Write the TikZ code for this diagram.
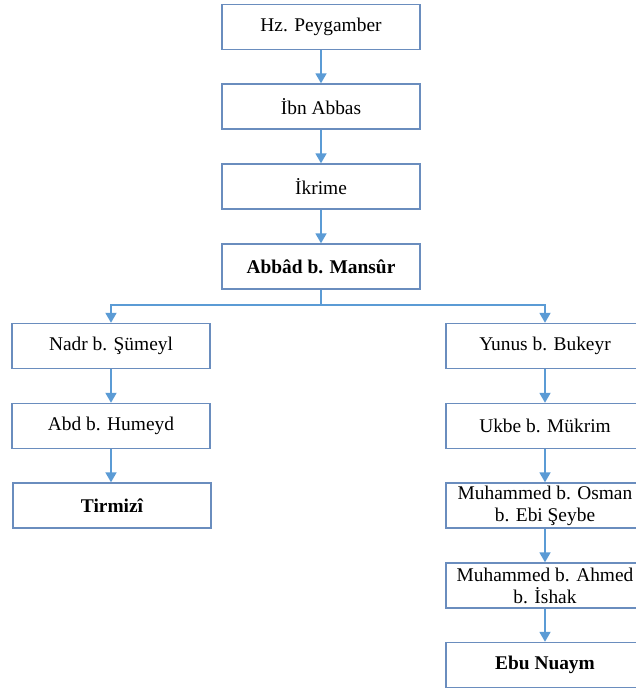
\documentclass[tikz,border=0pt]{standalone}
\usepackage{fontspec}
\setmainfont{Liberation Serif}
\usetikzlibrary{arrows.meta}
\definecolor{boxc}{HTML}{6A8DBE}
\definecolor{arrc}{HTML}{5B9BD5}
\begin{document}
\begin{tikzpicture}[x=1pt,y=-1pt,
  box/.style={draw=boxc,line width=1.4pt,minimum width=198pt,minimum height=45pt,
    align=center,inner sep=0pt,font=\fontsize{19.4pt}{22pt}\selectfont},
  bbox/.style={box,font=\fontsize{19.4pt}{22pt}\selectfont\bfseries},
  arr/.style={draw=arrc,line width=1.8pt,-{Triangle[width=11pt,length=10pt]}}]
\useasboundingbox (0,0) rectangle (636,689);
\clip (0,0) rectangle (636,689);
\node[box] (hz) at (321,27) {Hz. Peygamber};
\node[box] (ibn) at (321,106.5) {İbn Abbas};
\node[box] (ikr) at (321,186.5) {İkrime};
\node[bbox] (abb) at (321,266.5) {Abbâd b. Mansûr};
\node[box] (nadr) at (111,346) {Nadr b. Şümeyl};
\node[box] (abd) at (111,426) {Abd b. Humeyd};
\node[bbox] (tir) at (112,505.5) {Tirmizî};
\node[box] (yun) at (545,346) {Yunus b. Bukeyr};
\node[box] (ukb) at (545,426) {Ukbe b. Mükrim};
\node[box] (mos) at (545,505.5) {Muhammed b. Osman\\b. Ebi Şeybe};
\node[box] (mah) at (545,585.5) {Muhammed b. Ahmed\\b. İshak};
\node[bbox] (ebu) at (545,665) {Ebu Nuaym};
\coordinate (br) at (321,305);
\draw[arr] (hz) -- (ibn);
\draw[arr] (ibn) -- (ikr);
\draw[arr] (ikr) -- (abb);
\draw[arr] (abb.south) -- (br) -| (nadr.north);
\draw[arr] (abb.south) -- (br) -| (yun.north);
\draw[arr] (nadr) -- (abd);
\draw[arr] (abd.south) -- (tir.north -| abd.south);
\draw[arr] (yun) -- (ukb);
\draw[arr] (ukb) -- (mos);
\draw[arr] (mos) -- (mah);
\draw[arr] (mah) -- (ebu);
\end{tikzpicture}
\end{document}
